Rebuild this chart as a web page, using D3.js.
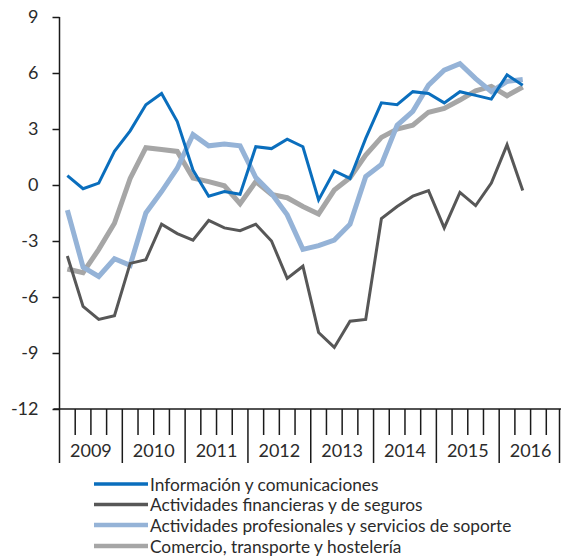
<!DOCTYPE html>
<html>
<head>
<meta charset="utf-8">
<script src="https://cdn.jsdelivr.net/npm/d3@7/dist/d3.min.js"></script>
<style>
  html, body { margin: 0; padding: 0; background: #fff; }
  svg { display: block; }
  text { font-family: Lato, "Open Sans", sans-serif; fill: #2b2b2b; }
</style>
</head>
<body>
<svg id="chart" width="561" height="556"></svg>
<script>
// ---- data ----
const years = ["2009", "2010", "2011", "2012", "2013", "2014", "2015", "2016"];
const quarters = ["T1", "T2", "T3", "T4"];
const yTicks = [-12, -9, -6, -3, 0, 3, 6, 9];

const informacion = [0.5, -0.2, 0.1, 1.8, 2.9, 4.3, 4.9, 3.4, 0.8, -0.6,
  -0.35, -0.5, 2.05, 1.95, 2.45, 2.05, -0.8, 0.75, 0.35, 2.5,
  4.4, 4.3, 5.0, 4.9, 4.4, 5.0, 4.8, 4.6, 5.9, 5.35];
const financieras = [-3.8, -6.5, -7.2, -7.0, -4.2, -4.0, -2.1, -2.6, -2.95, -1.9,
  -2.3, -2.45, -2.1, -3.0, -5.0, -4.35, -7.9, -8.7, -7.3, -7.2,
  -1.8, -1.15, -0.6, -0.3, -2.3, -0.4, -1.1, 0.1, 2.15, -0.3];
const profesionales = [-1.35, -4.4, -4.9, -3.95, -4.3, -1.5, -0.35, 0.9, 2.7, 2.1,
  2.2, 2.1, 0.4, -0.45, -1.6, -3.45, -3.25, -2.95, -2.1, 0.45,
  1.1, 3.2, 3.95, 5.35, 6.15, 6.5, 5.7, 5.0, 5.55, 5.65];
const comercio = [-4.5, -4.7, -3.45, -2.05, 0.35, 2.0, 1.9, 1.8, 0.37, 0.18,
  -0.04, -1.0, 0.18, -0.5, -0.68, -1.15, -1.55, -0.27, 0.39, 1.6,
  2.55, 3.0, 3.2, 3.9, 4.1, 4.55, 5.05, 5.28, 4.78, 5.25];

const seriesNames = [
  "Información y comunicaciones",
  "Actividades financieras y de seguros",
  "Actividades profesionales y servicios de soporte",
  "Comercio, transporte y hostelería"
];

// ---- build ----
(function () {
const periods = [];
years.forEach(yr => quarters.forEach(q => periods.push(yr + q)));

const series = [
  { name: seriesNames[0], values: informacion, color: "#0A6EBD", width: 3 },
  { name: seriesNames[1], values: financieras, color: "#575757", width: 3 },
  { name: seriesNames[2], values: profesionales, color: "#95B3D7", width: 5 },
  { name: seriesNames[3], values: comercio, color: "#A6A6A6", width: 5 }
];

const svg = d3.select("#chart");
const mLeft = 59.5, mRight = 562, mTop = 17, mBottom = 409;

const x = d3.scaleBand().domain(periods).range([mLeft, mRight]).paddingInner(0).paddingOuter(0);
const y = d3.scaleLinear().domain([-12, 9]).range([mBottom, mTop]);

// Lines (drawn bottom to top)
const drawOrder = [3, 2, 1, 0];
const line = d3.line()
  .x((d, i) => x(periods[i]) + x.bandwidth() / 2)
  .y(d => y(d))
  .curve(d3.curveLinear);

drawOrder.forEach(k => {
  const s = series[k];
  svg.append("path")
    .datum(s.values)
    .attr("fill", "none")
    .attr("stroke", s.color)
    .attr("stroke-width", s.width)
    .attr("stroke-linejoin", "miter")
    .attr("d", line);
});

// Y axis
const yAxis = d3.axisLeft(y).tickValues(yTicks).tickSize(7).tickPadding(14).tickFormat(d => String(d));
const gy = svg.append("g").attr("transform", `translate(${mLeft},0)`).call(yAxis);
gy.select(".domain").attr("stroke", "#1a1a1a").attr("stroke-width", 1.5)
  .attr("d", `M0,${mTop}V${mBottom}`);
gy.selectAll(".tick line").attr("stroke", "#1a1a1a").attr("stroke-width", 1.5);
gy.selectAll(".tick text").style("font-size", "18px").attr("fill", "#2b2b2b")
  .style("font-family", "Lato, 'Open Sans', sans-serif");

// X axis
const gx = svg.append("g");
gx.append("line")
  .attr("x1", mLeft - 6).attr("x2", mRight)
  .attr("y1", mBottom).attr("y2", mBottom)
  .attr("stroke", "#1a1a1a").attr("stroke-width", 1.5);

periods.forEach((p, i) => {
  const isYear = i % 4 === 0;
  gx.append("line")
    .attr("x1", x(p)).attr("x2", x(p))
    .attr("y1", mBottom).attr("y2", isYear ? 463 : 435)
    .attr("stroke", "#1a1a1a").attr("stroke-width", 1.5);
});
gx.append("line")
  .attr("x1", mRight - 2.5).attr("x2", mRight - 2.5)
  .attr("y1", mBottom).attr("y2", 463)
  .attr("stroke", "#1a1a1a").attr("stroke-width", 1.5);

years.forEach(yr => {
  gx.append("text")
    .attr("x", x(yr + "T1") + x.bandwidth() * 2)
    .attr("y", 457)
    .attr("text-anchor", "middle")
    .style("font-size", "18px")
    .text(yr);
});

// Legend
const legend = svg.append("g");
const legendY = [484, 504.5, 525, 546];
series.forEach((s, i) => {
  legend.append("line")
    .attr("x1", 94).attr("x2", 148)
    .attr("y1", legendY[i]).attr("y2", legendY[i])
    .attr("stroke", s.color)
    .attr("stroke-width", i < 2 ? 3.5 : 4.5);
  legend.append("text")
    .attr("x", 150)
    .attr("y", legendY[i] + 6.5)
    .style("font-size", "17.3px")
    .text(s.name);
});
})();
</script>
</body>
</html>
